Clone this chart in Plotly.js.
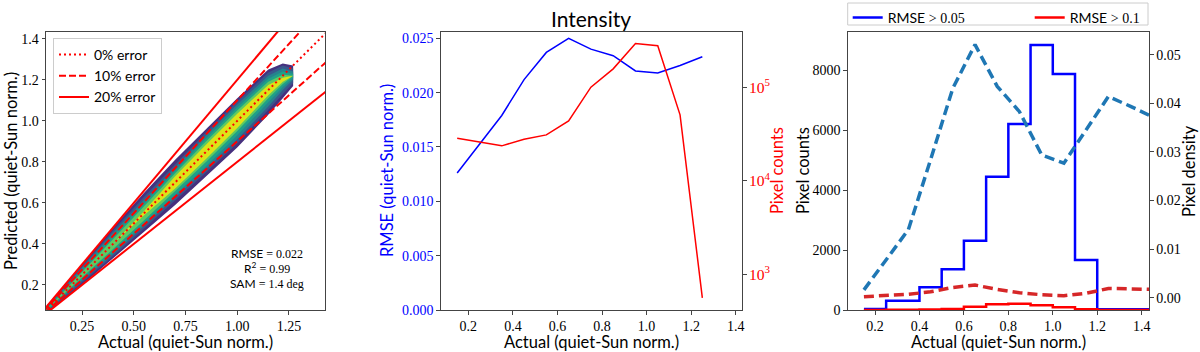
<!DOCTYPE html>
<html>
<head>
<meta charset="utf-8">
<script src="https://cdn.plot.ly/plotly-3.0.1.min.js"></script>
<style>body { margin: 0; }</style>
</head>
<body>
<div id="chart" style="width:1200px;height:352px"></div>
<script>
const sans = 'Lato, "DejaVu Sans", sans-serif'
const serif = '"Liberation Serif", serif'

// left panel: density band of predicted vs actual
const bandX = [0.08, 0.15, 0.25, 0.4, 0.55, 0.7, 0.85, 1.0, 1.15, 1.22, 1.27]
const purpleHi = [0.10, 0.18, 0.30, 0.48, 0.65, 0.81, 0.96, 1.11, 1.25, 1.28, 1.27]
const purpleLo = [0.07, 0.12, 0.20, 0.33, 0.46, 0.59, 0.73, 0.87, 1.03, 1.11, 1.17]
const blueHi = [0.095, 0.175, 0.29, 0.465, 0.63, 0.79, 0.945, 1.095, 1.235, 1.27, 1.255]
const blueLo = [0.07, 0.125, 0.21, 0.34, 0.475, 0.61, 0.75, 0.89, 1.05, 1.13, 1.185]
const tealHi = [0.09, 0.17, 0.28, 0.455, 0.615, 0.775, 0.93, 1.08, 1.22, 1.255, 1.24]
const tealLo = [0.072, 0.13, 0.22, 0.35, 0.49, 0.625, 0.765, 0.91, 1.07, 1.15, 1.20]
const greenHi = [0.087, 0.163, 0.272, 0.44, 0.60, 0.76, 0.915, 1.065, 1.205, 1.24, 1.23]
const greenLo = [0.075, 0.137, 0.228, 0.36, 0.50, 0.64, 0.78, 0.93, 1.09, 1.165, 1.21]
const limeHi = [0.08, 0.155, 0.262, 0.425, 0.585, 0.745, 0.90, 1.05, 1.19, 1.225, 1.22]
const limeLo = [0.08, 0.145, 0.238, 0.375, 0.515, 0.655, 0.80, 0.95, 1.11, 1.18, 1.22]
const yellowHi = [0.08, 0.15, 0.25, 0.40, 0.56, 0.73, 0.885, 1.035, 1.175, 1.21, 1.22]
const yellowLo = [0.08, 0.15, 0.25, 0.40, 0.54, 0.67, 0.815, 0.965, 1.125, 1.19, 1.22]

const errorLevels = [0, 0.1, 0.2]
const errorLabels = ['0% error', '10% error', '20% error']
const lineX = [0, 1.5]

const statLabels = ['RMSE', 'R<sup>2</sup>', 'SAM']
const statValues = ['0.022', '0.99', '1.4 deg']

// middle panel
const binCenters = [0.15, 0.25, 0.35, 0.45, 0.55, 0.65, 0.75, 0.85, 0.95, 1.05, 1.15, 1.25]
const rmseVals = [0.0126, 0.0153, 0.0179, 0.0212, 0.0237, 0.0250, 0.0240, 0.0234, 0.0220, 0.0218, 0.0225, 0.0233]
const pixelCounts = [28500, 25700, 23600, 27800, 30900, 43600, 100000, 157000, 293000, 277000, 50600, 560]

// right panel
const histEdges = [0.15, 0.25, 0.4, 0.5, 0.6, 0.7, 0.8, 0.9, 1.0, 1.1, 1.2, 1.45]
const countsOver005 = [33, 311, 756, 1356, 2311, 4444, 6200, 8833, 7866, 1667, 22]
const countsOver01 = [2, 5, 15, 35, 110, 190, 210, 160, 90, 25, 2]
const densX = [0.15, 0.25, 0.35, 0.45, 0.55, 0.65, 0.75, 0.85, 0.95, 1.05, 1.15, 1.25, 1.35, 1.45]
const densOver005 = [0.0016, 0.0078, 0.0140, 0.0284, 0.0431, 0.0521, 0.0435, 0.0383, 0.0294, 0.0277, 0.0345, 0.0414, 0.0394, 0.0372]
const densOver01 = [0.0002, 0.0004, 0.0007, 0.0012, 0.0021, 0.0026, 0.0017, 0.0010, 0.0006, 0.0004, 0.0009, 0.0019, 0.0018, 0.0017]

function band(lo, hi, color) {
    return {
        type: 'scatter', mode: 'lines',
        x: bandX.concat(bandX.slice().reverse()),
        y: hi.concat(lo.slice().reverse()),
        fill: 'toself', fillcolor: color,
        line: {width: 0},
        xaxis: 'x', yaxis: 'y',
        showlegend: false, hoverinfo: 'skip'
    }
}

let traces = [
    band(purpleLo, purpleHi, '#46307e'),
    band(blueLo, blueHi, '#39568c'),
    band(tealLo, tealHi, '#26828e'),
    band(greenLo, greenHi, '#1fa088'),
    band(limeLo, limeHi, '#5ec962'),
    band(yellowLo, yellowHi, '#dde318')
]

// error lines y = (1 +/- e) x
let dashes = ['2px,3px', '7px,3px', 'solid']
errorLevels.forEach((e, i) => {
    let signs = e === 0 ? [1] : [1, -1]
    signs.forEach((s, j) => {
        traces.push({
            type: 'scatter', mode: 'lines',
            x: lineX, y: lineX.map(v => v * (1 + s * e)),
            name: errorLabels[i],
            showlegend: j === 0,
            line: {color: 'red', width: 2, dash: dashes[i]},
            xaxis: 'x', yaxis: 'y', legend: 'legend'
        })
    })
})

traces.push({
    type: 'scatter', mode: 'lines', x: binCenters, y: rmseVals,
    line: {color: 'blue', width: 1.5}, xaxis: 'x2', yaxis: 'y2', showlegend: false
})
traces.push({
    type: 'scatter', mode: 'lines', x: binCenters, y: pixelCounts,
    line: {color: 'red', width: 1.5}, xaxis: 'x2', yaxis: 'y3', showlegend: false
})

traces.push({
    type: 'scatter', mode: 'lines', x: densX, y: densOver005,
    line: {color: '#1f77b4', width: 3.5, dash: '10px,5px'}, xaxis: 'x3', yaxis: 'y5', showlegend: false
})
traces.push({
    type: 'scatter', mode: 'lines', x: densX, y: densOver01,
    line: {color: '#d62728', width: 3.5, dash: '10px,5px'}, xaxis: 'x3', yaxis: 'y5', showlegend: false
})
traces.push({
    type: 'scatter', mode: 'lines', x: histEdges,
    y: countsOver005.concat(countsOver005[countsOver005.length - 1]),
    line: {color: 'blue', width: 2.5, shape: 'hv'}, xaxis: 'x3', yaxis: 'y4',
    name: 'RMSE <span style="font-family:Liberation Serif">&gt; 0.05</span>', legend: 'legend2'
})
traces.push({
    type: 'scatter', mode: 'lines', x: histEdges,
    y: countsOver01.concat(countsOver01[countsOver01.length - 1]),
    line: {color: 'red', width: 2.5, shape: 'hv'}, xaxis: 'x3', yaxis: 'y4',
    name: 'RMSE <span style="font-family:Liberation Serif">&gt; 0.1</span>', legend: 'legend3'
})

const yDom = [1 - 310 / 352, 1 - 32 / 352]
function axis(extra) {
    let base = {
        showline: true, linecolor: '#444', linewidth: 1, mirror: true,
        ticks: 'outside', ticklen: 3.5, tickcolor: '#444',
        showgrid: false, zeroline: false, automargin: false,
        tickfont: {family: serif, size: 14, color: 'black'}
    }
    return Object.assign(base, extra)
}

// axis titles as annotations at pixel positions
function label(text, px, py, angle, color) {
    return {
        xref: 'paper', yref: 'paper', x: px / 1200, y: 1 - py / 352,
        xanchor: 'center', yanchor: 'middle', showarrow: false, textangle: angle,
        text: text, font: {family: sans, size: 16.5, color: color || 'black'}
    }
}

let annotations = [
    label('Actual (quiet-Sun norm.)', 185.5, 342, 0),
    label('Actual (quiet-Sun norm.)', 591, 342, 0),
    label('Actual (quiet-Sun norm.)', 998, 342, 0),
    label('Predicted (quiet-Sun norm.)', 11, 171, -90),
    label('RMSE (quiet-Sun norm.)', 387, 171, -90, 'blue'),
    label('Pixel counts', 777, 171, -90, 'red'),
    label('Pixel counts', 803, 171, -90),
    label('Pixel density', 1189, 171, -90)
]
statLabels.forEach((lab, i) => {
    annotations.push({
        xref: 'paper', yref: 'paper', x: 267 / 1200, y: 1 - (253 + 15 * i) / 352,
        xanchor: 'center', yanchor: 'middle', showarrow: false,
        text: lab + ' <span style="font-family:Liberation Serif">= ' + statValues[i] + '</span>',
        font: {family: sans, size: 12, color: 'black'}
    })
})

let layout = {
    width: 1200, height: 352,
    margin: {l: 0, r: 0, t: 0, b: 0},
    paper_bgcolor: 'white', plot_bgcolor: 'white',
    font: {family: sans, color: 'black'},
    title: {text: 'Intensity', font: {family: sans, size: 21}, x: 591 / 1200, xanchor: 'center', y: 1 - 20 / 352, yanchor: 'middle'},
    xaxis: axis({domain: [46 / 1200, 325 / 1200], range: [0.076, 1.424], anchor: 'y',
        tickvals: [0.25, 0.5, 0.75, 1.0, 1.25], tickformat: '.2f'}),
    yaxis: axis({domain: yDom, range: [0.078, 1.433], anchor: 'x',
        tickvals: [0.2, 0.4, 0.6, 0.8, 1.0, 1.2, 1.4], tickformat: '.1f'}),
    xaxis2: axis({domain: [440.7 / 1200, 742 / 1200], range: [0.076, 1.428], anchor: 'y2',
        tickvals: [0.2, 0.4, 0.6, 0.8, 1.0, 1.2, 1.4], tickformat: '.1f'}),
    yaxis2: axis({domain: yDom, range: [0, 0.02558], anchor: 'x2', mirror: false,
        tickvals: [0, 0.005, 0.01, 0.015, 0.02, 0.025], tickformat: '.3f',
        tickfont: {family: serif, size: 14, color: 'blue'}}),
    yaxis3: axis({overlaying: 'y2', side: 'right', anchor: 'x2', type: 'log', range: [2.618, 5.59],
        dtick: 1, exponentformat: 'power', mirror: false,
        tickfont: {family: serif, size: 12.5, color: 'red'}}),
    xaxis3: axis({domain: [847.7 / 1200, 1149 / 1200], range: [0.077, 1.433], anchor: 'y4',
        tickvals: [0.2, 0.4, 0.6, 0.8, 1.0, 1.2, 1.4], tickformat: '.1f'}),
    yaxis4: axis({domain: yDom, range: [0, 9267], anchor: 'x3', mirror: false,
        tickvals: [0, 2000, 4000, 6000, 8000]}),
    yaxis5: axis({overlaying: 'y4', side: 'right', anchor: 'x3', range: [-0.00254, 0.0547], mirror: false,
        tickvals: [0, 0.01, 0.02, 0.03, 0.04, 0.05], tickformat: '.2f'}),
    legend: {x: 53 / 1200, y: 1 - 38 / 352, xanchor: 'left', yanchor: 'top',
        bgcolor: 'white', bordercolor: '#ccc', borderwidth: 1,
        font: {family: sans, size: 14, color: 'black'}},
    // the right legend is two borderless legends inside one framed box
    legend2: {x: 847.7 / 1200, y: 1 - 2 / 352, xanchor: 'left', yanchor: 'top',
        bgcolor: 'rgba(0,0,0,0)', borderwidth: 0,
        font: {family: sans, size: 14, color: 'black'}},
    legend3: {x: 1029.7 / 1200, y: 1 - 2 / 352, xanchor: 'left', yanchor: 'top',
        bgcolor: 'rgba(0,0,0,0)', borderwidth: 0,
        font: {family: sans, size: 14, color: 'black'}},
    shapes: [{type: 'rect', xref: 'paper', yref: 'paper',
        x0: 847.7 / 1200, x1: 1148 / 1200, y0: 1 - 25 / 352, y1: 1 - 3 / 352,
        line: {color: '#ccc', width: 1}, fillcolor: 'white', layer: 'below'}],
    annotations: annotations
}

Plotly.newPlot('chart', traces, layout, {staticPlot: true})
</script>
</body>
</html>
